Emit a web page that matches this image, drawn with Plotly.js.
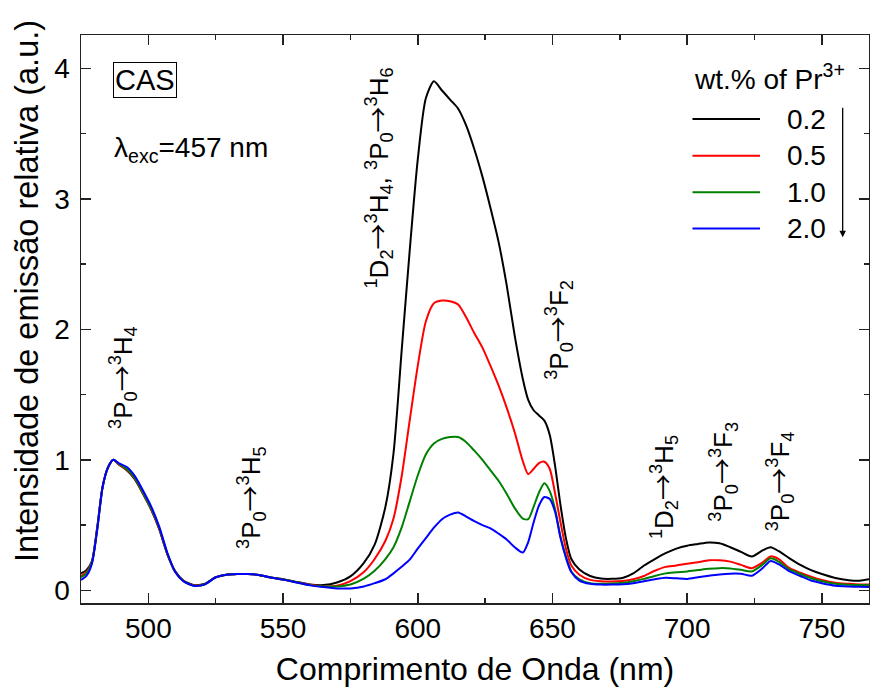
<!DOCTYPE html>
<html>
<head>
<meta charset="utf-8">
<script src="https://cdn.plot.ly/plotly-3.0.1.min.js"></script>
<style>html,body{margin:0;padding:0;background:#fff}#plot{width:870px;height:687px}</style>
</head>
<body>
<div id="plot"></div>
<script>
// wavelength grid (nm)
const wavelength = [475,477,479,481,483,485,487,489,492,495,498,501,504,507,510,513,517,521,525,529,533,537,541,545,550,555,560,
  565,570,575,580,584,588,591,594,597,600,603,606,609,612,615,618,621,624,627,630,633,636,639,641,643,645,647,649,651,
  653,655,657,660,664,668,672,676,680,684,688,692,696,700,704,708,712,716,720,724,728,731,734,738,742,746,750,755,760,764,768];

// relative emission intensity for each Pr3+ concentration
const int02 = [0.13,0.155,0.22,0.48,0.79,0.94,1.00,0.965,0.92,0.85,0.74,0.62,0.47,0.28,0.145,0.075,0.04,0.05,0.10,0.12,0.125,0.125,0.118,0.10,0.085,0.065,0.045,
  0.04,0.06,0.107,0.21,0.35,0.64,1.05,1.83,2.6,3.3,3.77,3.9,3.83,3.76,3.69,3.56,3.38,3.17,2.93,2.67,2.34,1.95,1.62,1.46,1.38,1.34,1.30,1.19,0.95,
  0.65,0.40,0.24,0.16,0.11,0.09,0.088,0.095,0.13,0.19,0.24,0.285,0.32,0.342,0.355,0.367,0.36,0.33,0.295,0.26,0.306,0.33,0.30,0.245,0.195,0.155,0.125,0.095,0.078,0.074,0.087];
const int05 = [0.11,0.14,0.21,0.47,0.79,0.94,1.00,0.965,0.925,0.855,0.745,0.625,0.475,0.28,0.14,0.072,0.038,0.048,0.10,0.12,0.125,0.125,0.118,0.10,0.083,0.062,0.042,
  0.03,0.035,0.07,0.14,0.24,0.38,0.55,0.87,1.3,1.72,2.06,2.2,2.22,2.215,2.19,2.09,1.97,1.86,1.72,1.57,1.40,1.21,0.99,0.89,0.93,0.975,0.985,0.93,0.74,
  0.52,0.32,0.19,0.12,0.08,0.07,0.068,0.072,0.085,0.11,0.15,0.18,0.19,0.204,0.215,0.23,0.23,0.22,0.195,0.17,0.214,0.26,0.24,0.17,0.135,0.105,0.08,0.058,0.05,0.045,0.044];
const int10 = [0.10,0.13,0.21,0.47,0.79,0.94,1.00,0.97,0.93,0.86,0.75,0.63,0.48,0.285,0.14,0.072,0.036,0.047,0.10,0.12,0.125,0.125,0.118,0.10,0.083,0.062,0.04,
  0.03,0.03,0.045,0.09,0.15,0.24,0.33,0.48,0.68,0.88,1.04,1.125,1.16,1.175,1.175,1.135,1.07,1.0,0.92,0.84,0.74,0.63,0.55,0.545,0.64,0.75,0.82,0.76,0.62,
  0.41,0.26,0.145,0.085,0.055,0.05,0.052,0.058,0.07,0.088,0.11,0.13,0.138,0.145,0.155,0.165,0.17,0.168,0.157,0.145,0.197,0.245,0.22,0.16,0.125,0.093,0.07,0.05,0.042,0.04,0.038];
const int20 = [0.08,0.11,0.20,0.46,0.79,0.94,1.00,0.975,0.945,0.875,0.765,0.645,0.49,0.29,0.14,0.07,0.034,0.046,0.10,0.12,0.125,0.125,0.118,0.10,0.082,0.06,0.038,
  0.025,0.015,0.015,0.03,0.055,0.085,0.13,0.18,0.235,0.32,0.40,0.48,0.545,0.58,0.597,0.565,0.53,0.50,0.475,0.435,0.39,0.33,0.29,0.37,0.52,0.65,0.715,0.70,0.60,
  0.40,0.25,0.14,0.075,0.05,0.044,0.044,0.046,0.055,0.07,0.085,0.096,0.092,0.087,0.10,0.112,0.122,0.128,0.127,0.112,0.17,0.225,0.20,0.145,0.11,0.075,0.055,0.036,0.03,0.028,0.026];

const seriesNames = ['0.2','0.5','1.0','2.0'];
const seriesColors = ['#000000','#ff0000','#008000','#0000ff'];
const seriesValues = [int02,int05,int10,int20];

// transition labels
const ARROW = '<span style="font-family:Noto Sans CJK JP">→</span>';
const transLabels = [
  '<sup>3</sup>P<sub>0</sub>'+ARROW+'<sup>3</sup>H<sub>4</sub>',
  '<sup>3</sup>P<sub>0</sub>'+ARROW+'<sup>3</sup>H<sub>5</sub>',
  '<sup>1</sup>D<sub>2</sub>'+ARROW+'<sup>3</sup>H<sub>4</sub>, <sup>3</sup>P<sub>0</sub>'+ARROW+'<sup>3</sup>H<sub>6</sub>',
  '<sup>3</sup>P<sub>0</sub>'+ARROW+'<sup>3</sup>F<sub>2</sub>',
  '<sup>1</sup>D<sub>2</sub>'+ARROW+'<sup>3</sup>H<sub>5</sub>',
  '<sup>3</sup>P<sub>0</sub>'+ARROW+'<sup>3</sup>F<sub>3</sub>',
  '<sup>3</sup>P<sub>0</sub>'+ARROW+'<sup>3</sup>F<sub>4</sub>'
];
const transX = [490.2, 537.8, 585.1, 652.0, 690.6, 712.7, 733.7];
const transY = [1.635, 0.709, 3.16, 1.995, 0.79, 0.912, 0.835];

const FONT = 'Liberation Sans, Arial, sans-serif';

const traces = seriesValues.map((v,i)=>({
  type:'scatter', mode:'lines', x:wavelength, y:v, name:seriesNames[i],
  line:{color:seriesColors[i], width:2, shape:'spline', smoothing:0.7},
  showlegend:false, hoverinfo:'skip'
}));

const annotations = [];
transLabels.forEach((t,i)=>annotations.push({
  x:transX[i], y:transY[i], xref:'x', yref:'y', text:t, showarrow:false,
  textangle:-90, xanchor:'center', yanchor:'middle', font:{family:FONT, size:26, color:'#000'}
}));
annotations.push({x:0.0812, y:0.921, xref:'paper', yref:'paper', text:'CAS', showarrow:false,
  xanchor:'center', yanchor:'middle', bordercolor:'#000', borderwidth:1, borderpad:1,
  font:{family:FONT, size:29, color:'#000'}});
annotations.push({x:0.0393, y:0.7977, xref:'paper', yref:'paper', text:'λ<sub>exc</sub>=457 nm', showarrow:false,
  xanchor:'left', yanchor:'middle', font:{family:FONT, size:28, color:'#000'}});
annotations.push({x:0.776, y:0.926, xref:'paper', yref:'paper', text:'wt.% of Pr<sup>3+</sup>', showarrow:false,
  xanchor:'left', yanchor:'middle', font:{family:FONT, size:28, color:'#000'}});
// y axis title
annotations.push({x:-0.0685, y:0.5495, xref:'paper', yref:'paper', text:'Intensidade de emissão relativa (a.u.)', showarrow:false,
  textangle:-90, xanchor:'center', yanchor:'middle', font:{family:FONT, size:32.5, color:'#000'}});

const legY = [0.852, 0.7876, 0.7232, 0.6592];
const shapes = [];
seriesNames.forEach((n,i)=>{
  shapes.push({type:'line', xref:'paper', yref:'paper', x0:0.776, x1:0.8617, y0:legY[i], y1:legY[i],
    line:{color:seriesColors[i], width:2}});
  annotations.push({x:0.8934, y:legY[i], xref:'paper', yref:'paper', text:n, showarrow:false,
    xanchor:'left', yanchor:'middle', font:{family:FONT, size:28, color:'#000'}});
});
// downward arrow next to legend
annotations.push({x:0.9666, y:0.644, xref:'paper', yref:'paper', ax:0, ay:-131, text:'', showarrow:true,
  arrowhead:2, arrowsize:1, arrowwidth:1.3, arrowcolor:'#000'});

const axisCommon = {
  showgrid:false, zeroline:false, showline:true, linecolor:'#222', linewidth:1.5,
  ticks:'inside', ticklen:10, tickwidth:1.5, tickcolor:'#222', mirror:'ticks',
  tickfont:{family:FONT, size:28, color:'#000'}
};

const layout = {
  width:870, height:687,
  margin:{l:81, r:1, t:35, b:84},
  paper_bgcolor:'#fff', plot_bgcolor:'#fff',
  font:{family:FONT, color:'#000'},
  xaxis:Object.assign({}, axisCommon, {
    range:[475, 767.5], tick0:500, dtick:50, tickmode:'linear',
    minor:{dtick:25, ticks:'inside', ticklen:5, tickwidth:1.5, tickcolor:'#222'},
    title:{text:'Comprimento de Onda (nm)', font:{family:FONT, size:32, color:'#000'}, standoff:16}
  }),
  yaxis:Object.assign({}, axisCommon, {
    range:[-0.097, 4.255], tick0:0, dtick:1, tickmode:'linear',
    ticklabelstandoff:4,
    minor:{dtick:0.5, ticks:'inside', ticklen:5, tickwidth:1.5, tickcolor:'#222'}
  }),
  annotations:annotations,
  shapes:shapes,
  showlegend:false
};

Plotly.newPlot('plot', traces, layout, {displayModeBar:false, staticPlot:true});
</script>
</body>
</html>
